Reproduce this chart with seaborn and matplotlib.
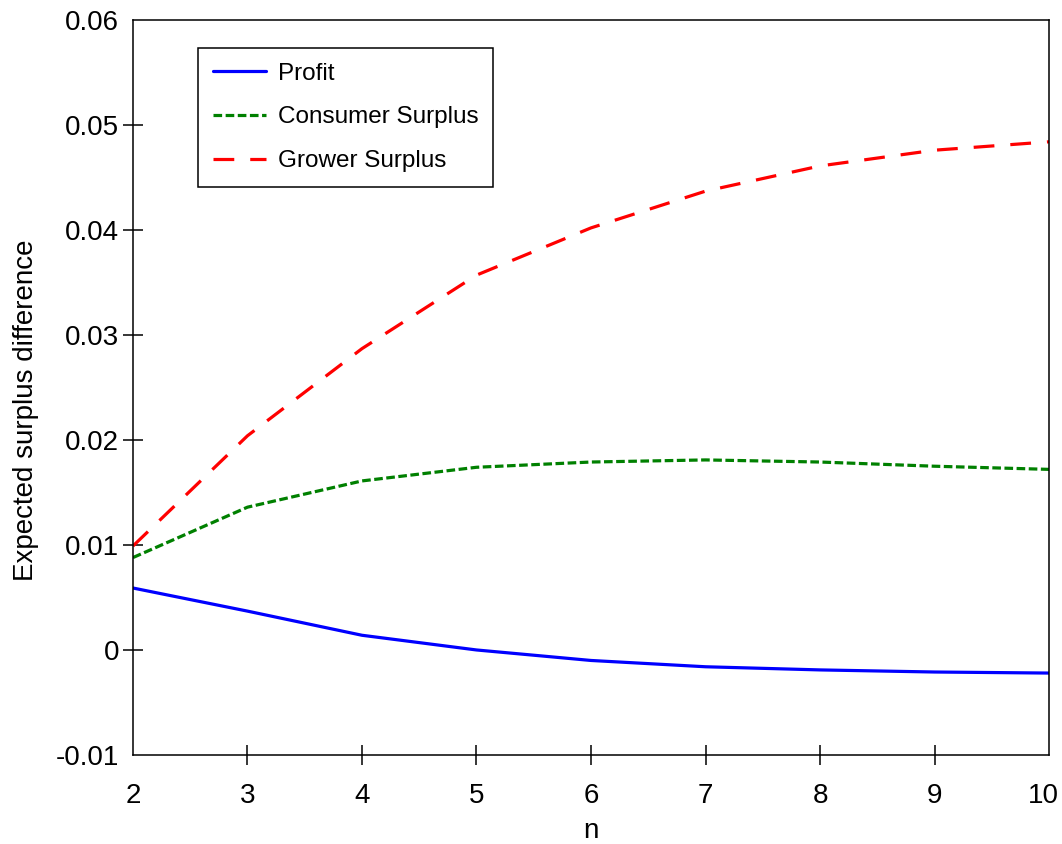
import pandas as pd
import numpy as np
import matplotlib
matplotlib.use("Agg")
import matplotlib.pyplot as plt
import matplotlib.transforms as mtransforms
import seaborn as sns

# valores
n_vals = [2, 3, 4, 5, 6, 7, 8, 9, 10]
profit = [0.0059, 0.0037, 0.0014, 0.0000, -0.0010, -0.0016, -0.0019, -0.0021, -0.0022]
consumer = [0.0088, 0.0136, 0.0161, 0.0174, 0.0179, 0.0181, 0.0179, 0.0175, 0.0172]
grower = [0.0099, 0.0204, 0.0287, 0.0357, 0.0402, 0.0437, 0.0461, 0.0476, 0.0484]
series_names = ["Profit", "Consumer Surplus", "Grower Surplus"]
y_ticks = [-0.01, 0, 0.01, 0.02, 0.03, 0.04, 0.05, 0.06]
y_labels = ["-0.01", "0", "0.01", "0.02", "0.03", "0.04", "0.05", "0.06"]

df = pd.DataFrame({
    "n": n_vals * 3,
    "valor": profit + consumer + grower,
    "serie": [series_names[0]] * 9 + [series_names[1]] * 9 + [series_names[2]] * 9,
})

sns.set_style("white")
plt.rcParams['font.family'] = ['Liberation Sans', 'DejaVu Sans']
plt.rcParams['text.color'] = 'black'
plt.rcParams['axes.labelcolor'] = 'black'
plt.rcParams['xtick.color'] = 'black'
plt.rcParams['ytick.color'] = 'black'

fig = plt.figure(figsize=(10.62, 8.44), dpi=100)
ax = fig.add_axes([0.1252, 0.1055, 0.8626, 0.8708])

palette = {"Profit": "#0000ff", "Consumer Surplus": "#008000", "Grower Surplus": "#ff0000"}
dashes = {"Profit": "", "Consumer Surplus": (2.7, 1.1), "Grower Surplus": (6.5, 5.0)}

sns.lineplot(data=df, x="n", y="valor", hue="serie", style="serie",
             palette=palette, dashes=dashes, linewidth=2.3, ax=ax)

ax.set_xlim(2, 10)
ax.set_ylim(-0.01, 0.06)
ax.set_xticks(n_vals)
ax.set_yticks(y_ticks)
ax.set_yticklabels(y_labels)

ax.tick_params(axis='both', direction='inout', length=14, width=1.1,
               labelsize=20, colors='black', left=True, bottom=True)
ax.tick_params(axis='y', pad=3)
ax.tick_params(axis='x', pad=13)
# las marcas en los extremos no se ven en el original
for t in [ax.xaxis.get_major_ticks()[0], ax.xaxis.get_major_ticks()[-1],
          ax.yaxis.get_major_ticks()[0], ax.yaxis.get_major_ticks()[-1]]:
    t.tick1line.set_visible(False)

# el "10" queda un poco a la izquierda para que no se corte
ultimo = ax.xaxis.get_majorticklabels()[-1]
ultimo.set_transform(ultimo.get_transform() +
                     mtransforms.ScaledTranslation(-0.06, 0, fig.dpi_scale_trans))

for s in ax.spines.values():
    s.set_linewidth(1.1)
    s.set_color('black')

ax.set_xlabel("n", fontsize=20, labelpad=7)
ax.set_ylabel("Expected surplus difference", fontsize=20)
ax.yaxis.set_label_coords(-0.103, 0.469)

leg = ax.legend(loc='upper left', bbox_to_anchor=(0.071, 0.962), borderaxespad=0,
                fontsize=17.5, frameon=True, fancybox=False, edgecolor='black',
                framealpha=1, handlelength=2.2, handletextpad=0.5, borderpad=0.6,
                labelspacing=0.9, title=None)
leg.get_frame().set_linewidth(1.1)
for txt in leg.get_texts():
    txt.set_color('black')

fig.savefig("out.png", dpi=100)
